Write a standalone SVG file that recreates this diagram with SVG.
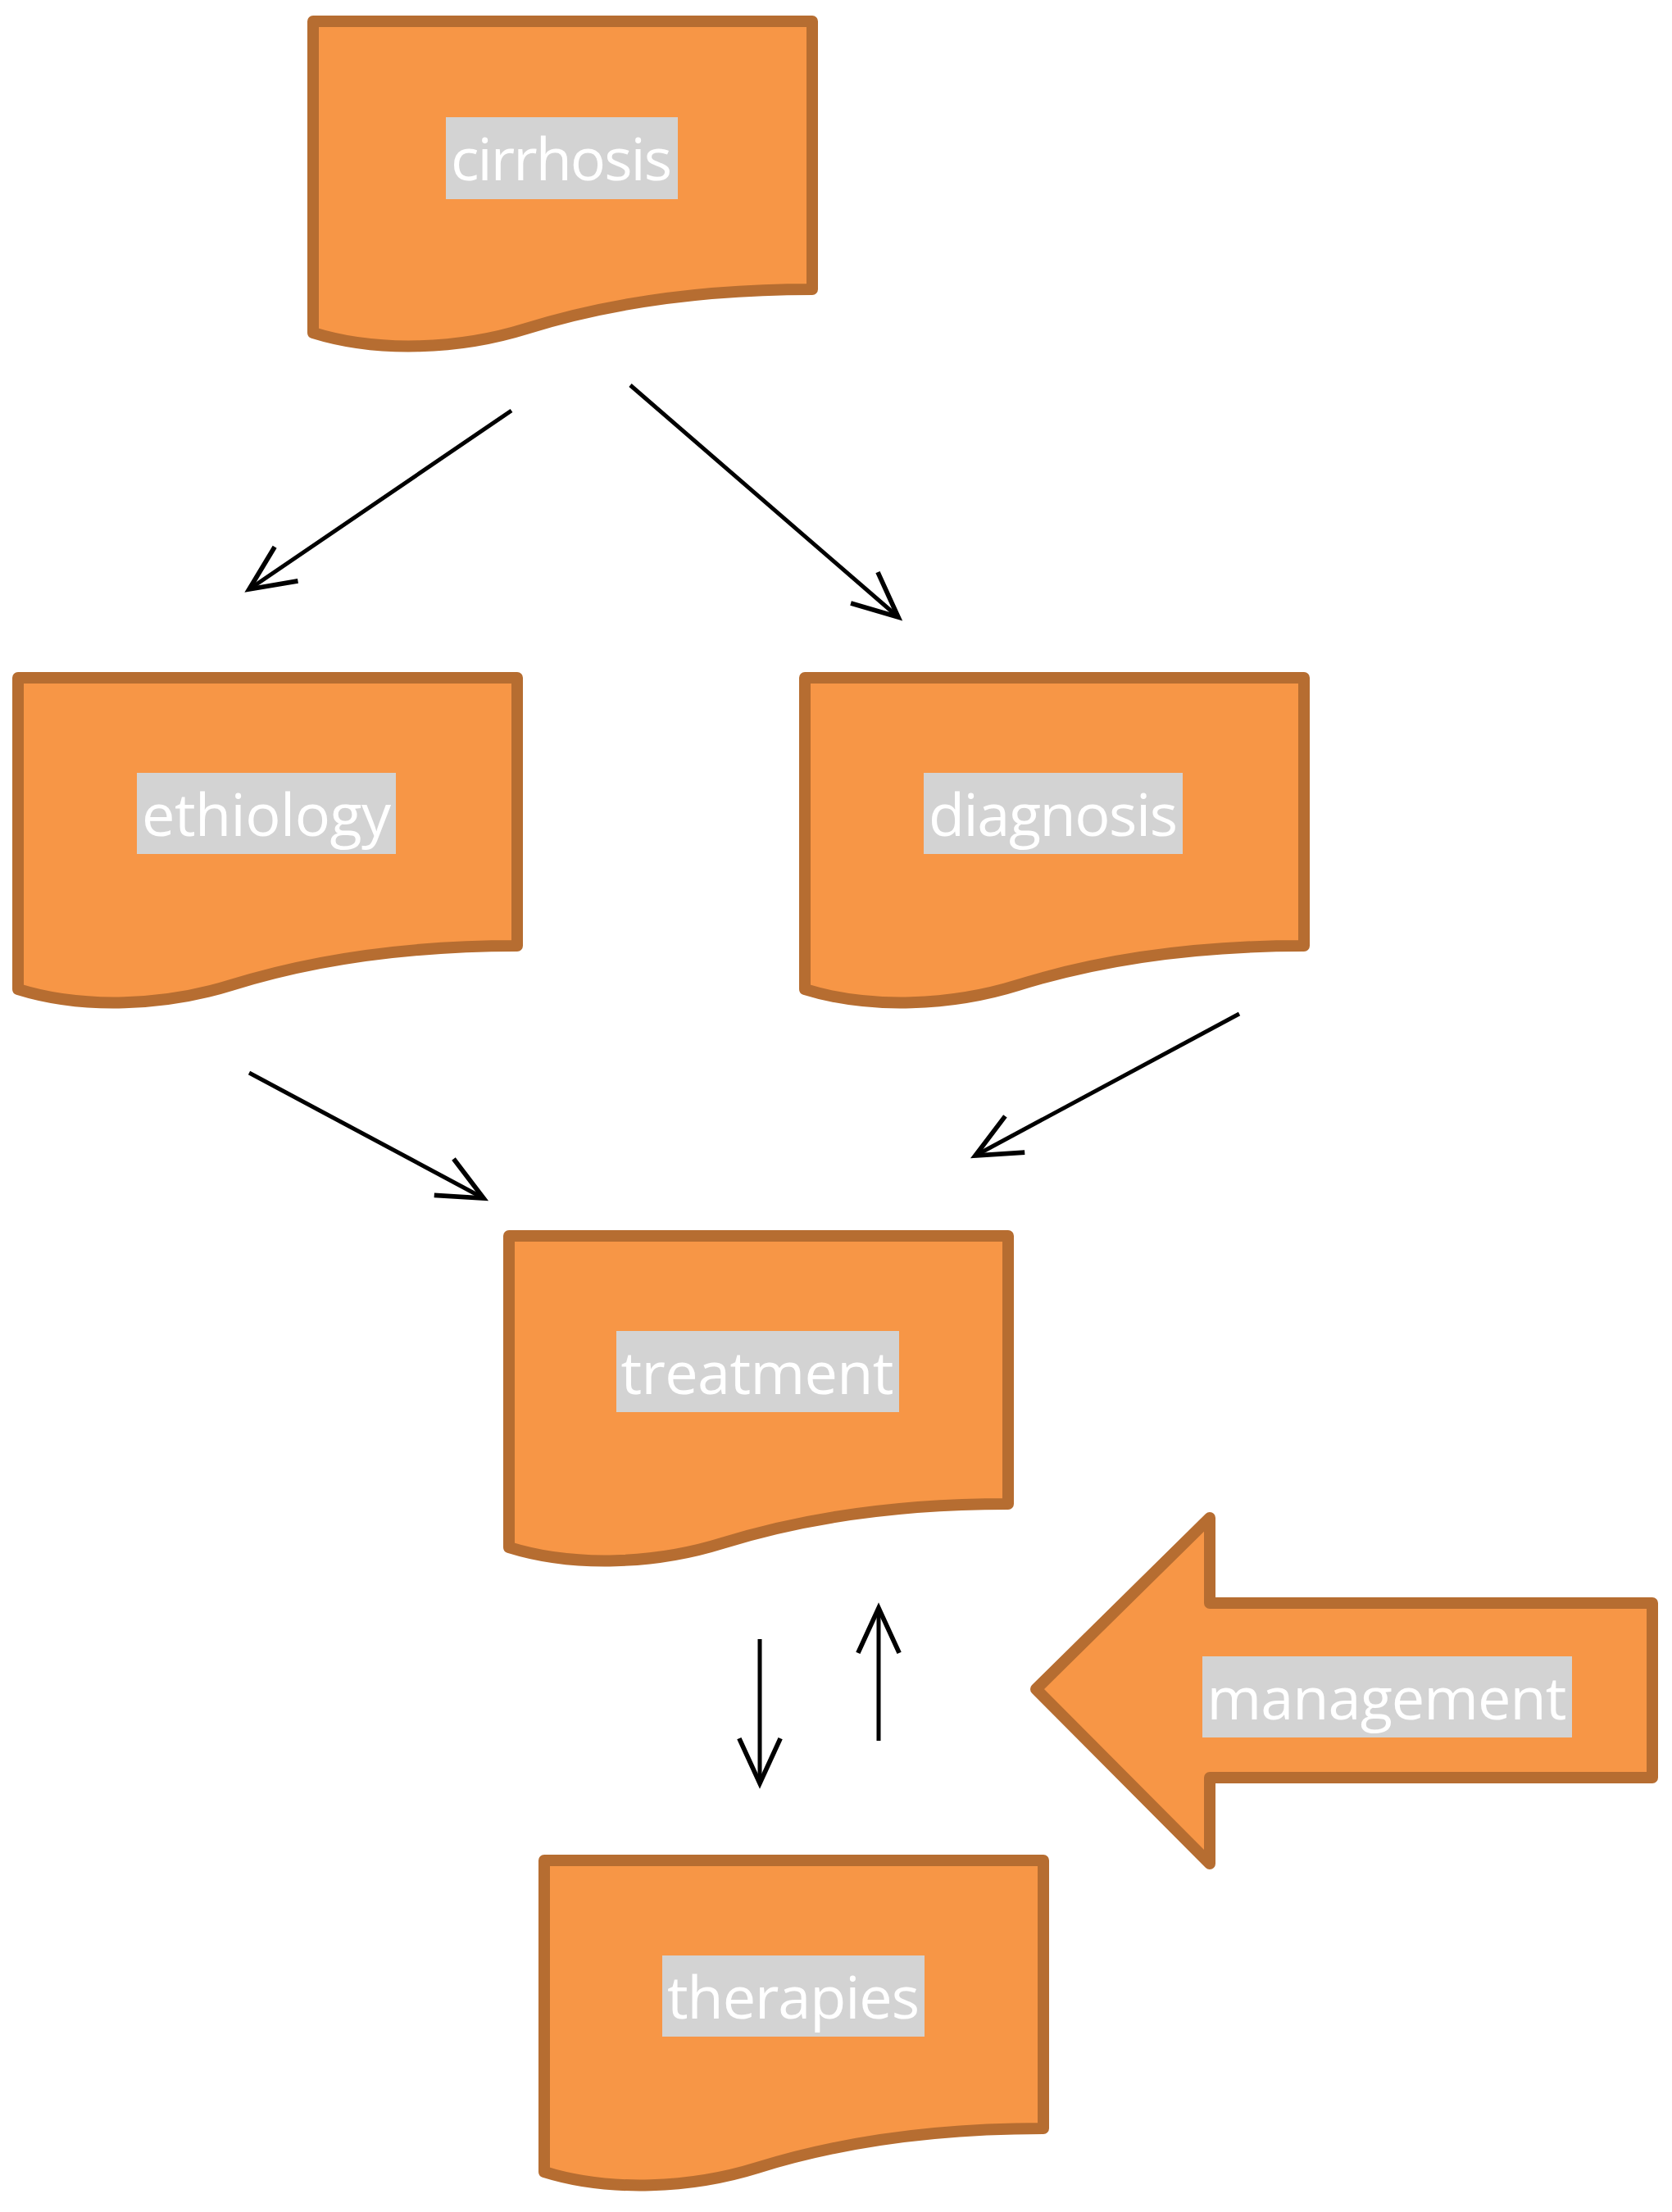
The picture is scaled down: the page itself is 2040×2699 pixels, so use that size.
<svg xmlns="http://www.w3.org/2000/svg" width="2040" height="2699" viewBox="0 0 2040 2699">
<style>
.n{fill:#F79646;stroke:#B66D31;stroke-width:14;stroke-linejoin:round}
.lb{fill:#D3D3D3}
.t{font-family:"Open Sans","Liberation Sans",sans-serif;font-size:72px;fill:#FFFFFF;text-anchor:middle}
.c{stroke:#000;stroke-width:5;fill:none}
</style>
<defs>
<path id="doc" d="M0,0 H609 V327 C450,327 340,350 260,375 C180,400 80,405 0,380 Z"/>
<marker id="ah" markerUnits="userSpaceOnUse" markerWidth="80" markerHeight="80" viewBox="-60 -30 70 60" refX="0" refY="0" orient="auto">
<path d="M-48,-22 L0,0 L-48,22" fill="none" stroke="#000" stroke-width="5"/>
</marker>
</defs>
<g id="connectors">
<line class="c" x1="624" y1="501" x2="304" y2="719" marker-end="url(#ah)"/>
<line class="c" x1="769" y1="470" x2="1096" y2="753" marker-end="url(#ah)"/>
<line class="c" x1="304" y1="1309" x2="590" y2="1462" marker-end="url(#ah)"/>
<line class="c" x1="1512" y1="1237" x2="1190" y2="1410" marker-end="url(#ah)"/>
<line class="c" x1="927" y1="2000" x2="927" y2="2176" marker-end="url(#ah)"/>
<line class="c" x1="1072" y1="2124" x2="1072" y2="1962" marker-end="url(#ah)"/>
</g>
<g id="cirrhosis"><use href="#doc" class="n" x="382" y="26"/><rect class="lb" x="544" y="143" width="283" height="100"/><text class="t" x="685" y="220" textLength="270">cirrhosis</text></g>
<g id="ethiology"><use href="#doc" class="n" x="22" y="827"/><rect class="lb" x="167" y="943" width="316" height="99"/><text class="t" x="325" y="1020" textLength="304">ethiology</text></g>
<g id="diagnosis"><use href="#doc" class="n" x="982" y="827"/><rect class="lb" x="1127" y="943" width="316" height="99"/><text class="t" x="1285" y="1020" textLength="304">diagnosis</text></g>
<g id="treatment"><use href="#doc" class="n" x="621" y="1508"/><rect class="lb" x="752" y="1624" width="345" height="99"/><text class="t" x="924" y="1701" textLength="333">treatment</text></g>
<g id="therapies"><use href="#doc" class="n" x="664" y="2270"/><rect class="lb" x="808" y="2386" width="320" height="99"/><text class="t" x="968" y="2463" textLength="308">therapies</text></g>
<g id="management"><polygon class="n" points="1264,2061 1476,1852 1476,1956 2016,1956 2016,2169 1476,2169 1476,2274"/><rect class="lb" x="1467" y="2021" width="451" height="99"/><text class="t" x="1692" y="2098" textLength="439">management</text></g>
</svg>
